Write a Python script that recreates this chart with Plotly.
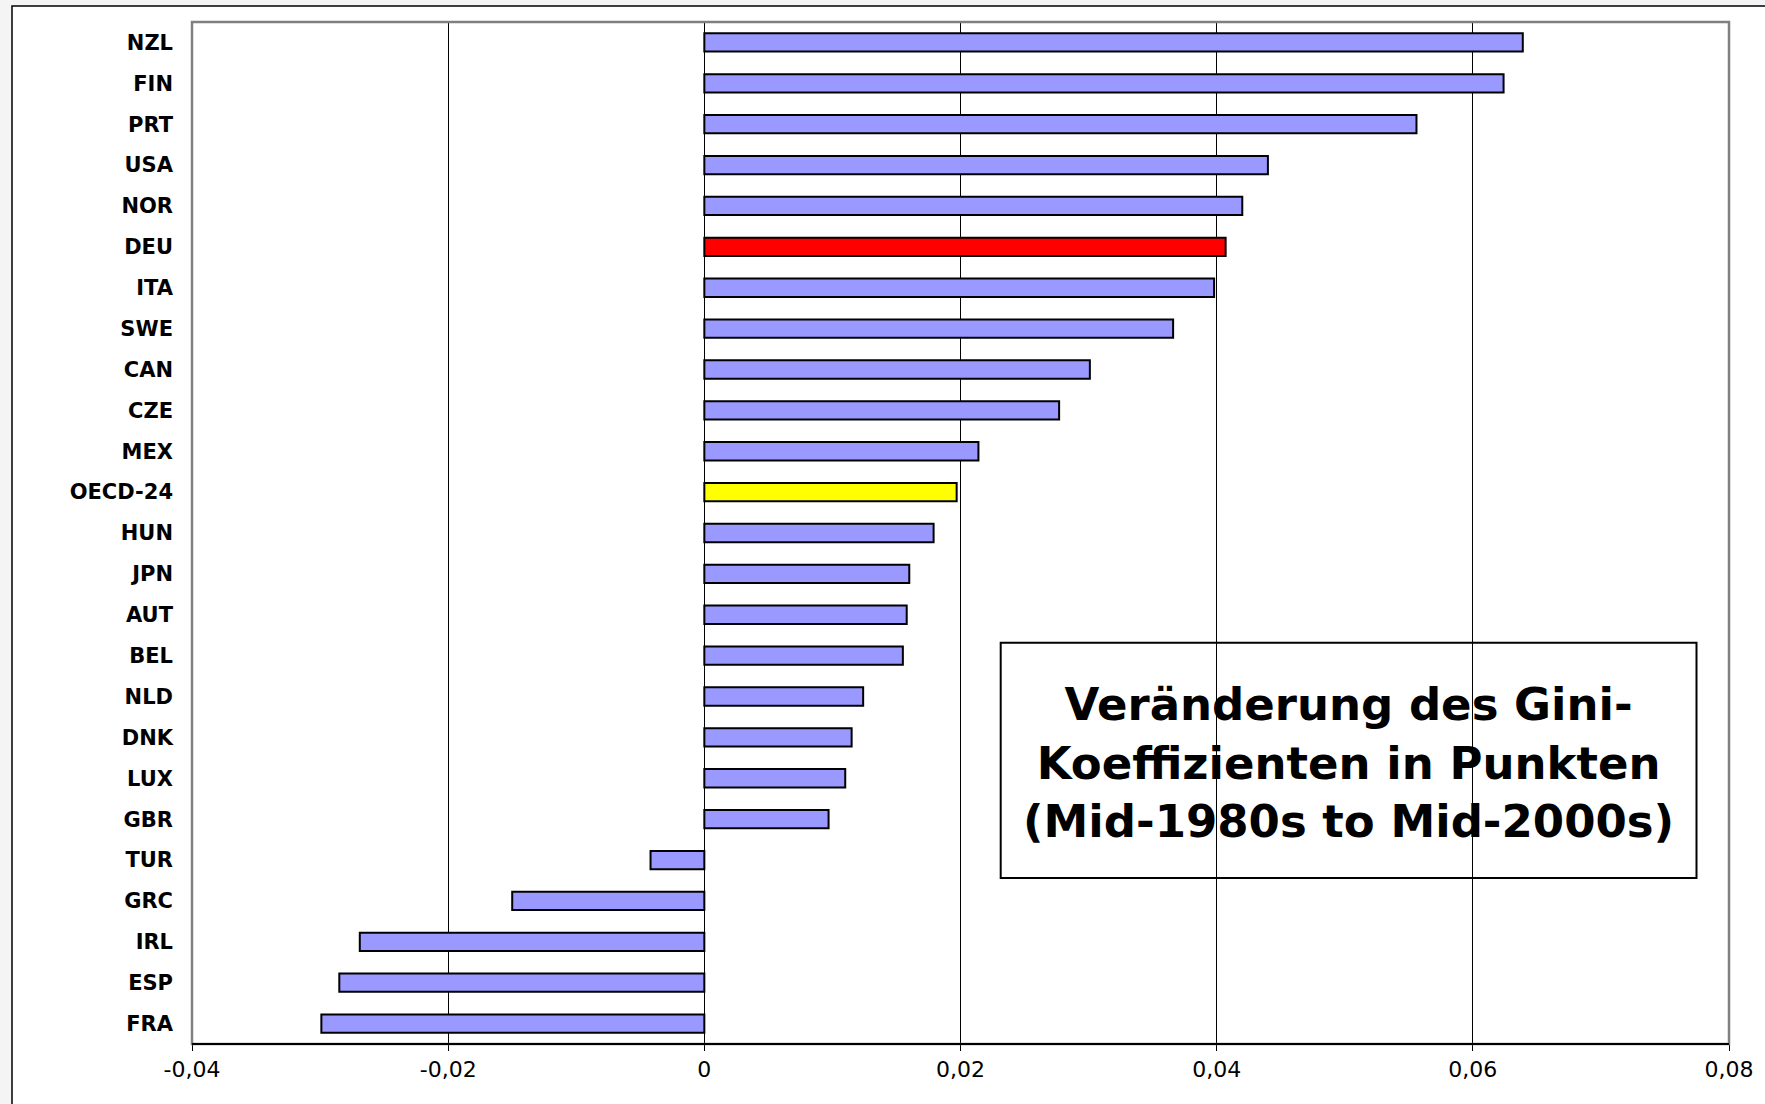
import plotly.graph_objects as go

countries = ["NZL", "FIN", "PRT", "USA", "NOR", "DEU", "ITA", "SWE", "CAN", "CZE",
             "MEX", "OECD-24", "HUN", "JPN", "AUT", "BEL", "NLD", "DNK", "LUX", "GBR",
             "TUR", "GRC", "IRL", "ESP", "FRA"]
gini_change = [0.0639, 0.0624, 0.0556, 0.0440, 0.0420, 0.0407, 0.0398, 0.0366, 0.0301, 0.0277,
               0.0214, 0.0197, 0.0179, 0.0160, 0.0158, 0.0155, 0.0124, 0.0115, 0.0110, 0.0097,
               -0.0042, -0.0150, -0.0269, -0.0285, -0.0299]
highlight = {"DEU": "#FF0000", "OECD-24": "#FFFF00"}
base_color = "#9999FF"
x_tick_vals = [-0.04, -0.02, 0, 0.02, 0.04, 0.06, 0.08]
x_tick_labels = ["-0,04", "-0,02", "0", "0,02", "0,04", "0,06", "0,08"]
box_text = "Veränderung des Gini-<br>Koeffizienten in Punkten<br>(Mid-1980s to Mid-2000s)"

colors = [highlight.get(c, base_color) for c in countries]

fig = go.Figure()
fig.add_trace(go.Bar(
    y=countries, x=gini_change, orientation="h",
    marker=dict(color=colors, line=dict(color="#000000", width=2)),
    hoverinfo="x+y",
))

W, H = 1765, 1104
L, R, T, B = 192, 36, 22, 60
pw, ph = W - L - R, H - T - B

def px_x(p):
    return (p - L) / pw

def px_y(p):
    return (H - B - p) / ph

fig.update_layout(
    width=W, height=H,
    margin=dict(l=L, r=R, t=T, b=B, pad=0),
    paper_bgcolor="#F4F4F4",
    plot_bgcolor="#FFFFFF",
    separators=",.",
    showlegend=False,
    bargap=0.552,
    font=dict(family="DejaVu Sans", color="#000000"),
    xaxis=dict(
        range=[-0.04, 0.08], tickvals=x_tick_vals, ticktext=x_tick_labels,
        showgrid=True, gridcolor="#000000", gridwidth=1,
        zeroline=False, showline=False,
        ticks="outside", ticklen=6, tickcolor="#000000", tickwidth=1,
        tickfont=dict(family="DejaVu Sans", size=22, color="#000000"),
        fixedrange=True,
    ),
    yaxis=dict(
        autorange="reversed", type="category",
        showgrid=False, zeroline=False, showline=False, ticks="",
        ticklabelstandoff=18,
        tickfont=dict(family="DejaVu Sans", size=21, color="#000000", weight="bold"),
        fixedrange=True,
    ),
    shapes=[
        # outer chart frame
        dict(type="rect", xref="paper", yref="paper", layer="below",
             x0=px_x(12), x1=px_x(W + 20), y0=px_y(H + 20), y1=px_y(6),
             fillcolor="#FFFFFF", line=dict(color="#000000", width=1.5)),
        # plot area border (gray)
        dict(type="rect", xref="paper", yref="paper", layer="above",
             x0=0, x1=1, y0=0, y1=1,
             line=dict(color="#808080", width=2.5)),
        # bottom axis line (black)
        dict(type="line", xref="paper", yref="paper", layer="above",
             x0=0, x1=1, y0=0, y1=0,
             line=dict(color="#000000", width=2)),
        # annotation box
        dict(type="rect", xref="paper", yref="paper", layer="above",
             x0=px_x(1000.7), x1=px_x(1696.5), y0=px_y(878), y1=px_y(642.8),
             line=dict(color="#000000", width=2)),
    ],
    annotations=[
        dict(xref="paper", yref="paper",
             x=(px_x(1000.7) + px_x(1696.5)) / 2, y=px_y(763),
             xanchor="center", yanchor="middle", showarrow=False,
             text=box_text, align="center",
             font=dict(family="DejaVu Sans", size=45, color="#000000", weight="bold")),
    ],
)

fig.write_html("out.html",
               config={"displayModeBar": False},
               post_script="document.body.style.margin='0';document.body.style.overflow='hidden';")
